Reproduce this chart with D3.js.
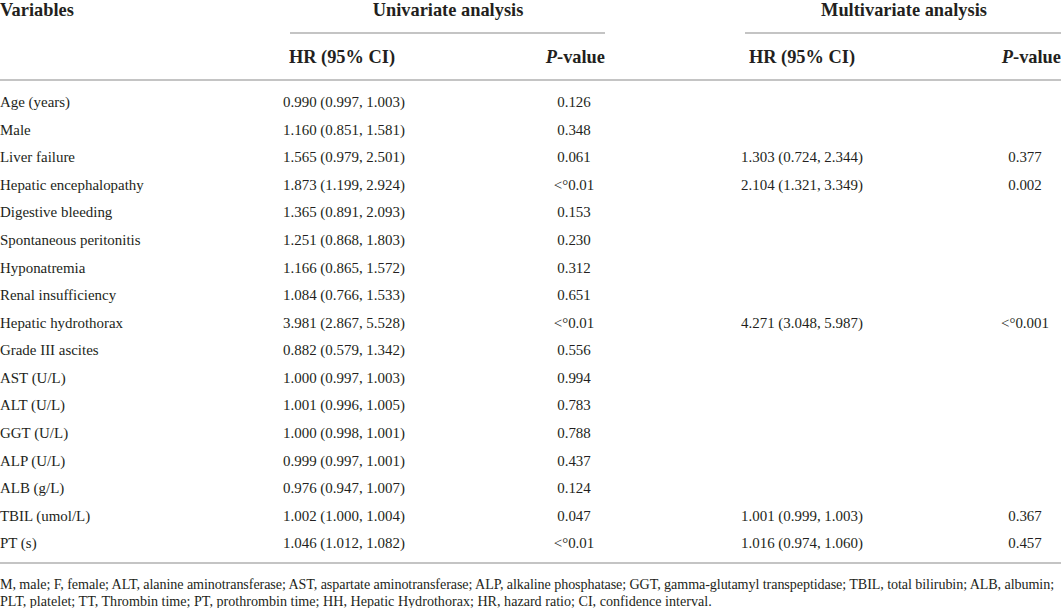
<!DOCTYPE html>
<html>
<head>
<meta charset="utf-8">
<script src="https://cdn.jsdelivr.net/npm/d3@7"></script>
<style>
  html, body { margin: 0; padding: 0; background: #fff; }
  svg { display: block; }
</style>
</head>
<body>
<svg id="chart" width="1061" height="608"></svg>
<script>
const variables = ["Age (years)", "Male", "Liver failure", "Hepatic encephalopathy", "Digestive bleeding",
  "Spontaneous peritonitis", "Hyponatremia", "Renal insufficiency", "Hepatic hydrothorax", "Grade III ascites",
  "AST (U/L)", "ALT (U/L)", "GGT (U/L)", "ALP (U/L)", "ALB (g/L)", "TBIL (umol/L)", "PT (s)"];
const uniHR = ["0.990 (0.997, 1.003)", "1.160 (0.851, 1.581)", "1.565 (0.979, 2.501)", "1.873 (1.199, 2.924)",
  "1.365 (0.891, 2.093)", "1.251 (0.868, 1.803)", "1.166 (0.865, 1.572)", "1.084 (0.766, 1.533)",
  "3.981 (2.867, 5.528)", "0.882 (0.579, 1.342)", "1.000 (0.997, 1.003)", "1.001 (0.996, 1.005)",
  "1.000 (0.998, 1.001)", "0.999 (0.997, 1.001)", "0.976 (0.947, 1.007)", "1.002 (1.000, 1.004)",
  "1.046 (1.012, 1.082)"];
const uniP = ["0.126", "0.348", "0.061", "<°0.01", "0.153", "0.230", "0.312", "0.651", "<°0.01", "0.556",
  "0.994", "0.783", "0.788", "0.437", "0.124", "0.047", "<°0.01"];
const multiHR = ["", "", "1.303 (0.724, 2.344)", "2.104 (1.321, 3.349)", "", "", "", "", "4.271 (3.048, 5.987)",
  "", "", "", "", "", "", "1.001 (0.999, 1.003)", "1.016 (0.974, 1.060)"];
const multiP = ["", "", "0.377", "0.002", "", "", "", "", "<°0.001", "", "", "", "", "", "", "0.367", "0.457"];
const groupHeaders = ["Univariate analysis", "Multivariate analysis"];
const footnote = [
  "M, male; F, female; ALT, alanine aminotransferase; AST, aspartate aminotransferase; ALP, alkaline phosphatase; GGT, gamma-glutamyl transpeptidase; TBIL, total bilirubin; ALB, albumin;",
  "PLT, platelet; TT, Thrombin time; PT, prothrombin time; HH, Hepatic Hydrothorax; HR, hazard ratio; CI, confidence interval."
];

const FONT = "'Liberation Serif', 'Times New Roman', Tinos, 'Noto Serif', 'DejaVu Serif', serif";
const INK = "#231f20";
const svg = d3.select("#chart").attr("font-family", FONT);
svg.selectAll("*").remove();
const W = 1061;

function measure(str, size, weight, ls) {
  const t = svg.append("text").attr("font-size", size).attr("font-weight", weight || "normal")
    .attr("letter-spacing", ls || 0).attr("font-family", FONT).text(str);
  const w = t.node().getBBox().width;
  t.remove();
  return w;
}
function fit(str, target, weight) { return 100 * target / measure(str, 100, weight); }

const fsBody = fit(uniHR[0], 122);
const fsHead = fit(groupHeaders[1], 166, "bold");
const fsFoot = fit(footnote[1], 712);

// row scale
const y = d3.scalePoint().domain(d3.range(variables.length)).range([102, 543]);

// column centres
const col = { uniHR: 344, uniP: 574, multiHR: 802, multiP: 1025 };

const lineColor = "#8a8a8a";

function txt(x, yy, s, size, anchor, weight) {
  return svg.append("text").attr("x", x).attr("y", yy).attr("dy", "0.35em")
    .attr("text-anchor", anchor || "start").attr("font-size", size)
    .attr("font-weight", weight || "normal").attr("fill", INK).text(s);
}

// header
txt(0, 10, "Variables", fsHead, "start", "bold");

const groups = [
  { label: groupHeaders[0], cx: 448, x0: 290, x1: 605, hr: 342, pr: 605 },
  { label: groupHeaders[1], cx: 904, x0: 745, x1: 1061, hr: 802, pr: 1061 }
];
groups.forEach(g => {
  txt(g.cx, 10, g.label, fsHead, "middle", "bold");
  svg.append("line").attr("x1", g.x0).attr("x2", g.x1).attr("y1", 33).attr("y2", 33)
    .attr("stroke", lineColor).attr("stroke-width", 1.2);
  txt(g.hr, 57, "HR (95% CI)", fsHead, "middle", "bold");
  const pt = txt(g.pr, 57, "", fsHead, "end", "bold");
  pt.append("tspan").attr("font-style", "italic").text("P");
  pt.append("tspan").text("-value");
});

svg.append("line").attr("x1", 0).attr("x2", W).attr("y1", 80).attr("y2", 80)
  .attr("stroke", lineColor).attr("stroke-width", 1.2);

// body
const rows = svg.append("g").selectAll("g").data(variables).join("g")
  .attr("transform", (d, i) => `translate(0,${y(i)})`)
  .attr("font-size", fsBody).attr("fill", INK);
rows.append("text").attr("x", 0).attr("dy", "0.35em").text(d => d);
rows.append("text").attr("x", col.uniHR).attr("dy", "0.35em").attr("text-anchor", "middle").text((d, i) => uniHR[i]);
rows.append("text").attr("x", col.uniP).attr("dy", "0.35em").attr("text-anchor", "middle").text((d, i) => uniP[i]);
rows.append("text").attr("x", col.multiHR).attr("dy", "0.35em").attr("text-anchor", "middle").text((d, i) => multiHR[i]);
rows.append("text").attr("x", col.multiP).attr("dy", "0.35em").attr("text-anchor", "middle").text((d, i) => multiP[i]);

svg.append("line").attr("x1", 0).attr("x2", W).attr("y1", 563).attr("y2", 563)
  .attr("stroke", lineColor).attr("stroke-width", 1.2);

// footnote: first line tightened to the full width, last line ragged
const fy = [584, 601];
const w1 = measure(footnote[0], fsFoot);
const ls = (1054 - w1) / footnote[0].length;
txt(0, fy[0], footnote[0], fsFoot).attr("letter-spacing", ls);
txt(0, fy[1], footnote[1], fsFoot);
</script>
</body>
</html>
